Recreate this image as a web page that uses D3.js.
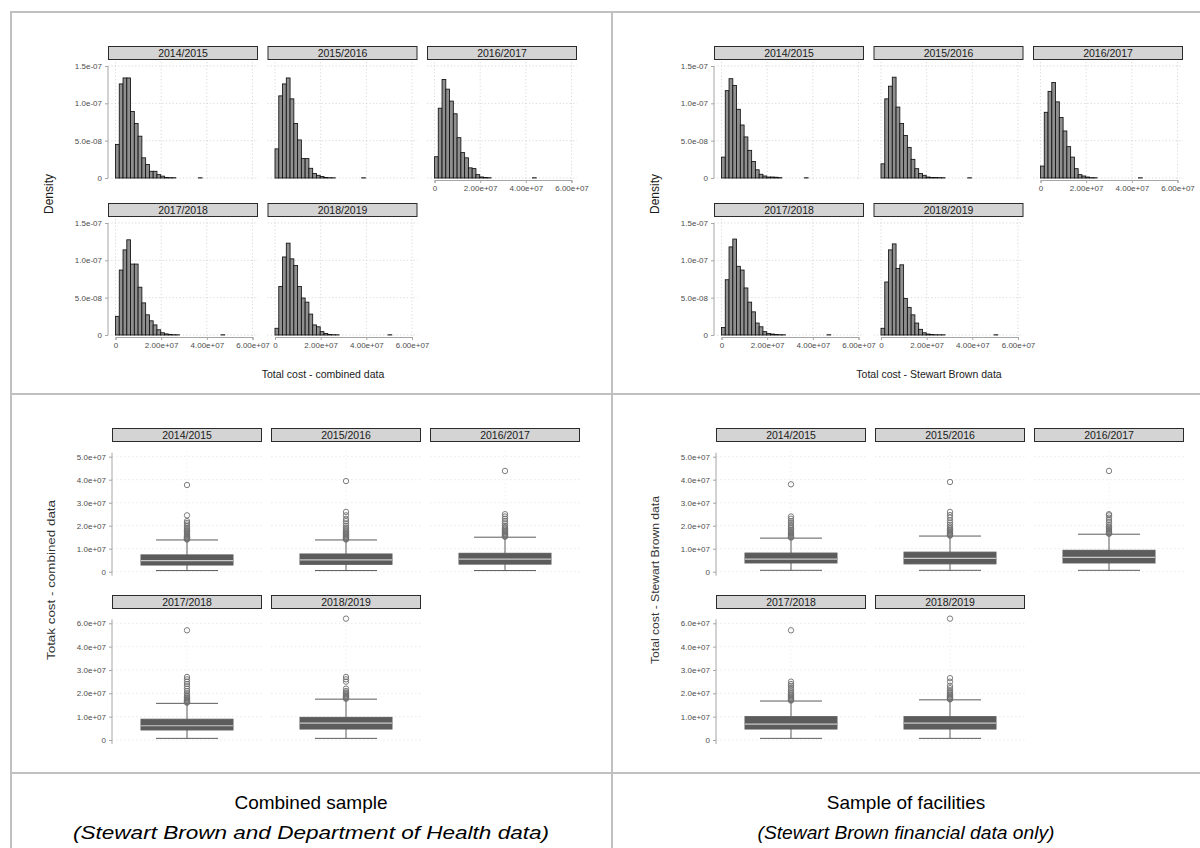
<!DOCTYPE html>
<html>
<head>
<meta charset="utf-8">
<script src="https://cdn.jsdelivr.net/npm/d3@7"></script>
<style>
  html, body { margin: 0; padding: 0; background: #fff; }
  svg { display: block; font-family: "Liberation Sans", Arial, sans-serif; }
</style>
</head>
<body>
<svg id="chart" width="1200" height="848"></svg>
<script>
// Facet labels
const years = ["2014/2015", "2015/2016", "2016/2017", "2017/2018", "2018/2019"];

// Histogram bin width (cost units) and bin densities (x 1e-8), bins start at 0
const binWidth = 1.65e6;
const densCombined1415 = [4.5, 12.6, 13.4, 13.4, 8.9, 7.3, 5.6, 2.7, 1.8, 0.9, 0.9, 0.45, 0.25, 0.08, 0.05, 0.04, 0, 0, 0, 0, 0, 0, 0.03];
const densCombined1516 = [3.9, 11.0, 12.6, 13.4, 10.6, 7.3, 5.1, 2.6, 2.6, 1.3, 0.6, 0.36, 0.2, 0.06, 0.04, 0.03, 0, 0, 0, 0, 0, 0, 0, 0.03];
const densCombined1617 = [2.85, 9.35, 13.2, 11.9, 10.3, 8.6, 5.4, 3.4, 2.7, 1.36, 1.26, 0.45, 0.14, 0.06, 0.04, 0, 0, 0, 0, 0, 0, 0, 0, 0, 0, 0, 0.03];
const densCombined1718 = [2.5, 8.7, 11.4, 12.75, 9.5, 9.5, 6.4, 4.3, 2.7, 1.9, 1.35, 0.7, 0.3, 0.15, 0.06, 0.04, 0.03, 0, 0, 0, 0, 0, 0, 0, 0, 0, 0, 0, 0.03];
const densCombined1819 = [0.9, 6.5, 10.45, 12.3, 10.2, 9.3, 6.5, 4.95, 4.4, 2.8, 1.35, 1.1, 0.45, 0.2, 0.06, 0.04, 0.03, 0, 0, 0, 0, 0, 0, 0, 0, 0, 0, 0, 0, 0, 0.03];

const densSB1415 = [2.8, 11.7, 13.3, 12.4, 9.2, 7.1, 5.5, 3.7, 2.2, 1.1, 0.5, 0.27, 0.13, 0.13, 0.1, 0.05, 0, 0, 0, 0, 0, 0, 0.03];
const densSB1516 = [1.9, 10.6, 12.3, 13.5, 9.5, 7.3, 5.7, 4.1, 2.5, 1.25, 0.6, 0.36, 0.13, 0.08, 0.06, 0.05, 0.04, 0, 0, 0, 0, 0, 0, 0.03];
const densSB1617 = [1.6, 8.8, 11.6, 12.8, 10.2, 8.1, 6.3, 4.2, 2.8, 1.25, 0.45, 0.27, 0.13, 0.05, 0.04, 0, 0, 0, 0, 0, 0, 0, 0, 0, 0, 0, 0.03];
const densSB1718 = [1.0, 7.4, 11.8, 12.85, 9.2, 8.7, 6.3, 4.4, 3.1, 1.6, 1.1, 0.45, 0.2, 0.13, 0.06, 0.04, 0.03, 0, 0, 0, 0, 0, 0, 0, 0, 0, 0, 0, 0.03];
const densSB1819 = [0.9, 7.1, 11.4, 12.2, 8.9, 9.4, 4.9, 3.7, 2.7, 1.6, 0.76, 0.3, 0.13, 0.06, 0.04, 0.03, 0.03, 0, 0, 0, 0, 0, 0, 0, 0, 0, 0, 0, 0, 0, 0.03];

// Histogram axis ticks
const histXTicks = [0, 2e7, 4e7, 6e7];
const histXLabels = ["0", "2.00e+07", "4.00e+07", "6.00e+07"];
const histYTicks = [0, 5e-8, 1e-7, 1.5e-7];
const histYLabels = ["0", "5.0e-08", "1.0e-07", "1.5e-07"];

// Box plot summaries: [lower whisker, Q1, median, Q3, upper whisker]
const boxCombined1415 = [0.5e6, 2.9e6, 4.8e6, 7.3e6, 13.8e6];
const boxCombined1516 = [0.5e6, 3.2e6, 5.1e6, 7.7e6, 13.8e6];
const boxCombined1617 = [0.5e6, 3.3e6, 5.5e6, 8.0e6, 15.0e6];
const boxCombined1718 = [0.7e6, 4.3e6, 6.1e6, 8.9e6, 15.7e6];
const boxCombined1819 = [0.7e6, 4.7e6, 7.2e6, 9.7e6, 17.5e6];

const boxSB1415 = [0.6e6, 3.8e6, 5.5e6, 8.1e6, 14.6e6];
const boxSB1516 = [0.6e6, 3.4e6, 5.8e6, 8.5e6, 15.5e6];
const boxSB1617 = [0.6e6, 3.8e6, 6.2e6, 9.3e6, 16.3e6];
const boxSB1718 = [0.7e6, 4.7e6, 6.8e6, 10.0e6, 16.7e6];
const boxSB1819 = [0.7e6, 4.7e6, 7.2e6, 10.0e6, 17.2e6];

// Outlying values (cost units, millions)
const outCombined1415 = [14.0, 14.2, 14.4, 14.6, 14.8, 15.0, 15.3, 15.6, 16.0, 16.4, 16.8, 17.2, 17.6, 18.0, 18.5, 19.0, 19.7, 20.5, 21.2, 22.0, 24.5, 37.7];
const outCombined1516 = [14.0, 14.2, 14.5, 14.8, 15.1, 15.4, 15.8, 16.2, 16.6, 17.0, 17.5, 18.0, 18.6, 19.2, 20.0, 21.0, 22.0, 23.0, 24.5, 26.0, 39.4];
const outCombined1617 = [15.2, 15.4, 15.7, 16.0, 16.3, 16.6, 17.0, 17.4, 17.8, 18.3, 18.8, 19.4, 20.0, 21.0, 22.0, 23.0, 24.0, 25.0, 43.8];
const outCombined1718 = [16.0, 16.2, 16.5, 16.8, 17.1, 17.5, 17.9, 18.3, 18.8, 19.3, 20.0, 21.0, 22.0, 23.0, 24.0, 25.0, 26.0, 27.0, 47.0];
const outCombined1819 = [17.7, 17.9, 18.2, 18.5, 18.8, 19.1, 19.5, 19.9, 20.4, 21.0, 22.0, 25.0, 26.0, 27.0, 52.0];

const outSB1415 = [14.8, 15.0, 15.3, 15.6, 16.0, 16.4, 16.8, 17.2, 17.7, 18.2, 18.8, 19.5, 20.3, 21.2, 22.0, 23.0, 24.0, 38.0];
const outSB1516 = [15.7, 15.9, 16.2, 16.5, 16.9, 17.3, 17.8, 18.3, 18.9, 19.6, 20.4, 21.3, 22.3, 23.5, 24.6, 26.0, 39.0];
const outSB1617 = [16.5, 16.7, 17.0, 17.3, 17.7, 18.1, 18.6, 19.1, 19.7, 20.5, 21.5, 22.5, 23.5, 24.5, 25.0, 43.8];
const outSB1718 = [16.9, 17.1, 17.4, 17.7, 18.1, 18.5, 19.0, 19.5, 20.0, 20.7, 21.5, 22.3, 23.2, 24.0, 25.0, 47.0];
const outSB1819 = [17.4, 17.6, 17.9, 18.2, 18.6, 19.0, 19.5, 20.0, 20.6, 21.3, 22.2, 23.2, 25.0, 26.5, 52.0];

// Box plot axis ticks
const boxYTicks = [0, 1e7, 2e7, 3e7, 4e7, 5e7];
const boxYLabelsTop = ["0", "1.0e+07", "2.0e+07", "3.0e+07", "4.0e+07", "5.0e+07"];
const boxYLabelsBottom = ["0", "1.0e+07", "2.0e+07", "3.0e+07", "4.0e+07", "6.0e+07"];

// Axis titles and captions
const histTitleCombined = "Total cost - combined data";
const histTitleSB = "Total cost - Stewart Brown data";
const boxTitleCombined = "Totak cost - combined data";
const boxTitleSB = "Total cost - Stewart Brown data";
const captionCombined = ["Combined sample", "(Stewart Brown and Department of Health data)"];
const captionSB = ["Sample of facilities", "(Stewart Brown financial data only)"];

// ---------------------------------------------------------------------------
const svg = d3.select("#chart");
const GRID = "#c0c0c0";
const TICK_TEXT = "#4d4d4d";

function strip(g, x, y, w, label) {
  g.append("rect").attr("x", x + 0.5).attr("y", y + 0.5).attr("width", w - 1).attr("height", 13)
    .attr("fill", "#d4d4d4").attr("stroke", "#2b2b2b").attr("stroke-width", 1);
  g.append("text").attr("x", x + w / 2).attr("y", y + 10.5).attr("text-anchor", "middle")
    .attr("font-size", 10.5).attr("fill", "#1a1a1a").text(label);
}

function styleAxis(ax) {
  ax.select(".domain").attr("stroke", "#a6a6a6").attr("stroke-width", 1);
  ax.selectAll(".tick line").attr("stroke", "#a6a6a6");
  ax.selectAll(".tick text").attr("fill", TICK_TEXT).attr("font-size", 8)
    .attr("font-family", "Liberation Sans, Arial, sans-serif");
}

// Faceted histograms for one sample
function drawHistograms(dx, series, title) {
  const g = svg.append("g");
  const rows = [{ stripY: 46, zero: 178, top: 66 }, { stripY: 203, zero: 335, top: 223 }];
  series.forEach((dens, i) => {
    const row = rows[i < 3 ? 0 : 1];
    const col = i % 3;
    const px = dx + 108 + col * 159.5;
    const pw = 150;
    const x = d3.scaleLinear().domain([0, 6e7]).range([px + 7.5, px + 144.5]);
    const y = d3.scaleLinear().domain([0, 1.5e-7]).range([row.zero, row.top]);
    const panelTop = row.top - 4, panelBot = row.zero + 3;

    strip(g, px, row.stripY, pw, years[i]);

    // dotted grid
    g.append("g").selectAll("line.h").data(histYTicks).join("line")
      .attr("x1", px).attr("x2", px + pw).attr("y1", d => y(d)).attr("y2", d => y(d))
      .attr("stroke", "#cfcfcf").attr("stroke-width", 0.8).attr("stroke-dasharray", "1.2,2.2");
    g.append("g").selectAll("line.v").data(histXTicks).join("line")
      .attr("x1", d => x(d)).attr("x2", d => x(d)).attr("y1", panelTop).attr("y2", panelBot)
      .attr("stroke", "#cfcfcf").attr("stroke-width", 0.8).attr("stroke-dasharray", "1.2,2.2");

    // bars
    const bins = dens.map((v, k) => ({ x0: k * binWidth, x1: (k + 1) * binWidth, d: v * 1e-8 }))
      .filter(b => b.d > 0);
    g.append("g").selectAll("rect").data(bins).join("rect")
      .attr("x", b => x(b.x0)).attr("width", b => x(b.x1) - x(b.x0))
      .attr("y", b => y(b.d)).attr("height", b => Math.max(0, y(0) - y(b.d)))
      .attr("fill", "#8f8f8f").attr("stroke", "#111").attr("stroke-width", 0.85);

    if (col === 0) {
      const ax = g.append("g").attr("transform", `translate(${px},0)`)
        .call(d3.axisLeft(y).tickValues(histYTicks).tickSize(3).tickPadding(3)
          .tickFormat((d, k) => histYLabels[k]));
      ax.select(".domain").attr("d", `M0,${row.top}V${row.zero}`);
      styleAxis(ax);
    }
    if (i >= 2) {
      const ax = g.append("g").attr("transform", `translate(0,${row.zero + 2})`)
        .call(d3.axisBottom(x).tickValues(histXTicks).tickSize(3).tickPadding(2)
          .tickFormat((d, k) => histXLabels[k]));
      styleAxis(ax);
    }
  });
  g.append("text").attr("transform", `translate(${dx + 53},194) rotate(-90)`)
    .attr("text-anchor", "middle").attr("font-size", 12).attr("fill", "#1a1a1a").text("Density");
  g.append("text").attr("x", dx + 323).attr("y", 378).attr("text-anchor", "middle")
    .attr("font-size", 10.5).attr("fill", "#1a1a1a").text(title);
}

// Faceted box plots for one sample
function drawBoxplots(dx, boxes, outliers, title, titleLen) {
  const g = svg.append("g");
  const rows = [
    { stripY: 428, zero: 571.7, top: 456.7, labels: boxYLabelsTop },
    { stripY: 595, zero: 740, top: 623.3, labels: boxYLabelsBottom }
  ];
  boxes.forEach((b, i) => {
    const row = rows[i < 3 ? 0 : 1];
    const col = i % 3;
    const px = dx + 112 + col * 159;
    const pw = 150;
    const cx = px + pw / 2;
    const y = d3.scaleLinear().domain([0, 5e7]).range([row.zero, row.top]);
    const panelTop = row.top - 6, panelBot = row.zero + 4;

    strip(g, px, row.stripY, pw, years[i]);

    g.append("g").selectAll("line").data(boxYTicks).join("line")
      .attr("x1", px).attr("x2", px + pw).attr("y1", d => y(d)).attr("y2", d => y(d))
      .attr("stroke", "#e3e3e3").attr("stroke-width", 0.8).attr("stroke-dasharray", "1.5,2.5");
    g.append("line").attr("x1", cx).attr("x2", cx).attr("y1", panelTop).attr("y2", panelBot)
      .attr("stroke", "#ececec").attr("stroke-width", 0.8).attr("stroke-dasharray", "1.5,2.5");

    const [lo, q1, med, q3, hi] = b;
    const boxW = 92, capW = 62, col1 = "#5c5c5c";
    // whiskers and caps
    g.append("line").attr("x1", cx).attr("x2", cx).attr("y1", y(q3)).attr("y2", y(hi))
      .attr("stroke", col1).attr("stroke-width", 1);
    g.append("line").attr("x1", cx).attr("x2", cx).attr("y1", y(q1)).attr("y2", y(lo))
      .attr("stroke", col1).attr("stroke-width", 1);
    [lo, hi].forEach(v => g.append("line").attr("x1", cx - capW / 2).attr("x2", cx + capW / 2)
      .attr("y1", y(v)).attr("y2", y(v)).attr("stroke", col1).attr("stroke-width", 1));
    // box
    g.append("rect").attr("x", cx - boxW / 2).attr("width", boxW)
      .attr("y", y(q3)).attr("height", y(q1) - y(q3))
      .attr("fill", col1).attr("stroke", col1).attr("stroke-width", 1);
    g.append("line").attr("x1", cx - boxW / 2).attr("x2", cx + boxW / 2)
      .attr("y1", y(med)).attr("y2", y(med)).attr("stroke", "#c9c9c9").attr("stroke-width", 1.2);
    // outliers
    g.append("g").selectAll("circle").data(outliers[i]).join("circle")
      .attr("cx", cx).attr("cy", d => y(d * 1e6)).attr("r", 2.7)
      .attr("fill", "none").attr("stroke", "#707070").attr("stroke-width", 0.9);

    if (col === 0) {
      const ax = g.append("g").attr("transform", `translate(${px},0)`)
        .call(d3.axisLeft(y).tickValues(boxYTicks).tickSize(3).tickPadding(3)
          .tickFormat((d, k) => row.labels[k]));
      ax.select(".domain").attr("d", `M0,${panelTop + 2}V${panelBot}`);
      styleAxis(ax);
    }
  });
  g.append("text").attr("transform", `translate(${dx + 55},580) rotate(-90)`)
    .attr("text-anchor", "middle").attr("font-size", 11).attr("fill", "#333")
    .attr("textLength", titleLen).attr("lengthAdjust", "spacingAndGlyphs").text(title);
}

// Table frame
const frame = svg.append("g").attr("stroke", GRID).attr("stroke-width", 2);
frame.append("line").attr("x1", 10).attr("x2", 1200).attr("y1", 12).attr("y2", 12);
frame.append("line").attr("x1", 11).attr("x2", 11).attr("y1", 11).attr("y2", 848);
frame.append("line").attr("x1", 612).attr("x2", 612).attr("y1", 12).attr("y2", 848);
frame.append("line").attr("x1", 10).attr("x2", 1200).attr("y1", 394).attr("y2", 394);
frame.append("line").attr("x1", 10).attr("x2", 1200).attr("y1", 773).attr("y2", 773);

drawHistograms(0, [densCombined1415, densCombined1516, densCombined1617, densCombined1718, densCombined1819], histTitleCombined);
drawHistograms(606, [densSB1415, densSB1516, densSB1617, densSB1718, densSB1819], histTitleSB);
drawBoxplots(0, [boxCombined1415, boxCombined1516, boxCombined1617, boxCombined1718, boxCombined1819],
  [outCombined1415, outCombined1516, outCombined1617, outCombined1718, outCombined1819], boxTitleCombined, 160);
drawBoxplots(604, [boxSB1415, boxSB1516, boxSB1617, boxSB1718, boxSB1819],
  [outSB1415, outSB1516, outSB1617, outSB1718, outSB1819], boxTitleSB, 168);

// Captions
[[311, captionCombined, 476], [906, captionSB, 297]].forEach(([cx, lines, len]) => {
  svg.append("text").attr("x", cx).attr("y", 809).attr("text-anchor", "middle")
    .attr("font-size", 19).attr("fill", "#000").text(lines[0]);
  svg.append("text").attr("x", cx).attr("y", 839).attr("text-anchor", "middle")
    .attr("font-size", 19).attr("font-style", "italic").attr("fill", "#000")
    .attr("textLength", len).attr("lengthAdjust", "spacingAndGlyphs").text(lines[1]);
});
</script>
</body>
</html>
